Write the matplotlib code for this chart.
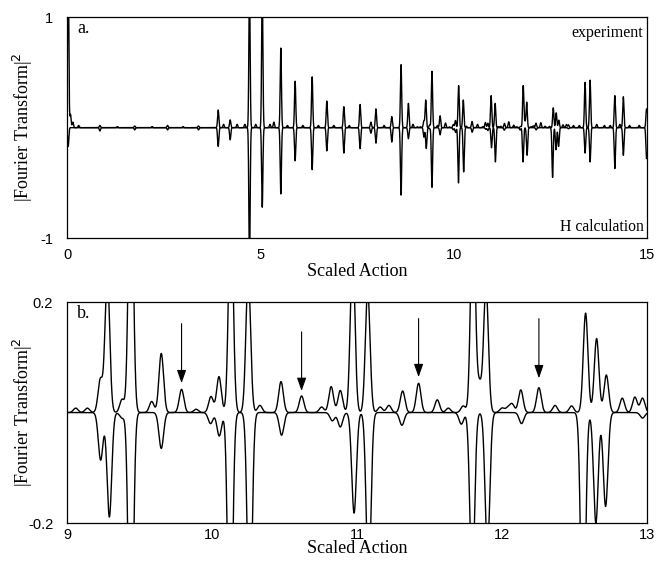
import numpy as np
import matplotlib
matplotlib.use("Agg")
import matplotlib.pyplot as plt

# peak positions (scaled action) and heights
exp_pos = [0.03, 0.09, 0.15, 0.30, 0.85, 1.30, 1.75, 2.20, 2.60, 3.00, 3.40,
           3.91, 4.05, 4.22, 4.40, 4.60, 4.72, 4.88, 5.05, 5.25, 5.35, 5.53,
           5.70, 5.90, 6.10, 6.34, 6.50, 6.72, 6.90, 7.16, 7.30, 7.58, 7.86,
           7.99, 8.20, 8.40, 8.64, 8.83, 8.95,
           9.06, 9.14, 9.23, 9.278, 9.38, 9.44, 9.584, 9.65, 9.79, 9.89, 9.993,
           10.048, 10.13, 10.25, 10.33, 10.476, 10.618, 10.756, 10.822, 10.885,
           10.97, 11.074, 11.16, 11.22, 11.315, 11.425, 11.554, 11.63, 11.733,
           11.80, 11.845, 11.89, 12.0, 12.04, 12.07, 12.13, 12.255, 12.366, 12.48,
           12.577, 12.653, 12.72, 12.83, 12.917, 12.97,
           13.10, 13.25, 13.40, 13.53, 13.70, 13.90, 14.05, 14.17, 14.30, 14.39,
           14.55, 14.80, 14.99]
exp_amp = [1.5, 0.12, 0.05, 0.02, 0.02, 0.01, 0.015, 0.01, 0.02, 0.01, 0.015,
           0.16, 0.03, 0.07, 0.03, 0.03, 1.3, 0.03, 1.3, 0.03, 0.05, 0.72,
           0.02, 0.42, 0.02, 0.46, 0.02, 0.24, 0.02, 0.19, 0.02, 0.21, 0.05,
           0.17, 0.02, 0.10, 0.57, 0.22, 0.03,
           0.008, 0.008, 0.06, 0.25, 0.024, 0.51, 0.02, 0.107, 0.042, 0.006, 0.029,
           0.065, 0.38, 0.25, 0.013, 0.056, 0.030, 0.01, 0.047, 0.04,
           0.29, 0.22, 0.01, 0.013, 0.039, 0.053, 0.023, 0.008, 0.012,
           0.38, 0.05, 0.23, 0.008, 0.008, 0.015, 0.041, 0.045, 0.013, 0.012,
           0.18, 0.134, 0.068, 0.026, 0.028, 0.026,
           0.02, 0.02, 0.41, 0.43, 0.03, 0.02, 0.02, 0.29, 0.03, 0.28,
           0.02, 0.02, 0.17]

calc_pos = [0.03, 0.85, 1.75, 2.60, 3.40,
            3.91, 4.22, 4.72, 5.05, 5.53, 5.90, 6.34, 6.72, 7.16, 7.58, 7.86,
            7.99, 8.40, 8.64, 8.83,
            9.232, 9.292, 9.38, 9.44, 9.65, 9.99, 10.05, 10.125, 10.26, 10.48,
            10.83, 10.885, 10.98, 11.08, 11.31, 11.72, 11.795, 11.90, 12.135,
            12.56, 12.648, 12.715, 12.97,
            13.40, 13.53, 14.17, 14.39, 14.99]
calc_amp = [0.17, 0.03, 0.02, 0.02, 0.02,
            0.17, 0.11, 1.3, 0.72, 0.60, 0.30, 0.38, 0.21, 0.23, 0.19, 0.05,
            0.14, 0.13, 0.61, 0.10,
            0.086, 0.189, 0.01, 0.54, 0.065, 0.02, 0.0425, 0.50, 0.40, 0.041,
            0.015, 0.026, 0.182, 0.31, 0.023, 0.021, 0.31, 0.25, 0.02,
            0.45, 0.20, 0.17, 0.01,
            0.23, 0.31, 0.37, 0.25, 0.28]

# arrows in panel b: x position, tail height, tip height
arrow_x = [9.79, 10.618, 11.425, 12.255]
arrow_tail = [0.161, 0.146, 0.170, 0.170]
arrow_tip = [0.053, 0.039, 0.064, 0.062]

width = 0.016


def spectrum(x, pos, amp):
    y = np.zeros_like(x)
    for p, a in zip(pos, amp):
        y += a * np.exp(-0.5 * ((x - p) / width) ** 2)
    return y


x = np.linspace(0, 15, 30001)
y_exp = spectrum(x, exp_pos, exp_amp)
y_calc = -spectrum(x, calc_pos, calc_amp)

serif = ["Liberation Serif", "DejaVu Serif"]
sans = ["Liberation Sans", "DejaVu Sans"]

fig = plt.figure(figsize=(6.65, 5.63), dpi=100)
ax1 = fig.add_axes([0.1008, 0.577, 0.872, 0.3925])
ax2 = fig.add_axes([0.1008, 0.071, 0.872, 0.3925])

for ax in (ax1, ax2):
    ax.plot(x, y_exp, color="black", lw=1.0)
    ax.plot(x, y_calc, color="black", lw=1.0)
    ax.tick_params(length=0, labelsize=10.5)
    ax.tick_params(axis="y", pad=10)
    for s in ax.spines.values():
        s.set_linewidth(0.9)
    ax.set_ylabel("|Fourier Transform|$^2$", family=serif, fontsize=13)
    ax.yaxis.set_label_coords(-0.055, 0.5)

ax1.tick_params(axis="x", pad=7)
ax2.tick_params(axis="x", pad=3.5)
ax1.set_xlabel("Scaled Action", family=serif, fontsize=13, labelpad=1)
ax2.set_xlabel("Scaled Action", family=serif, fontsize=13, labelpad=-1)

ax1.set_xlim(0, 15)
ax1.set_ylim(-1, 1)
ax1.set_xticks([0, 5, 10, 15])
ax1.set_xticklabels(["0", "5", "10", "15"], family=sans)
ax1.set_yticks([-1, 1])
ax1.set_yticklabels(["-1", "1"], family=sans)
ax1.text(0.017, 0.985, "a.", transform=ax1.transAxes, ha="left", va="top",
         family=serif, fontsize=13)
ax1.text(0.994, 0.93, "experiment", transform=ax1.transAxes, ha="right",
         va="center", family=serif, fontsize=11.5)
ax1.text(0.994, 0.05, "H calculation", transform=ax1.transAxes, ha="right",
         va="center", family=serif, fontsize=11.3)

ax2.set_xlim(9, 13)
ax2.set_ylim(-0.2, 0.2)
ax2.set_xticks([9, 10, 11, 12, 13])
ax2.set_xticklabels(["9", "10", "11", "12", "13"], family=sans)
ax2.set_yticks([-0.2, 0.2])
ax2.set_yticklabels(["-0.2", "0.2"], family=sans)
ax2.text(0.017, 0.985, "b.", transform=ax2.transAxes, ha="left", va="top",
         family=serif, fontsize=13)

for ax_, t0, t1 in zip(arrow_x, arrow_tail, arrow_tip):
    ax2.annotate("", xy=(ax_, t1), xytext=(ax_, t0),
                 arrowprops=dict(arrowstyle="-|>,head_length=0.8,head_width=0.28",
                                 color="black", lw=0.8, shrinkA=0, shrinkB=0))

fig.savefig("out.png", dpi=100)
